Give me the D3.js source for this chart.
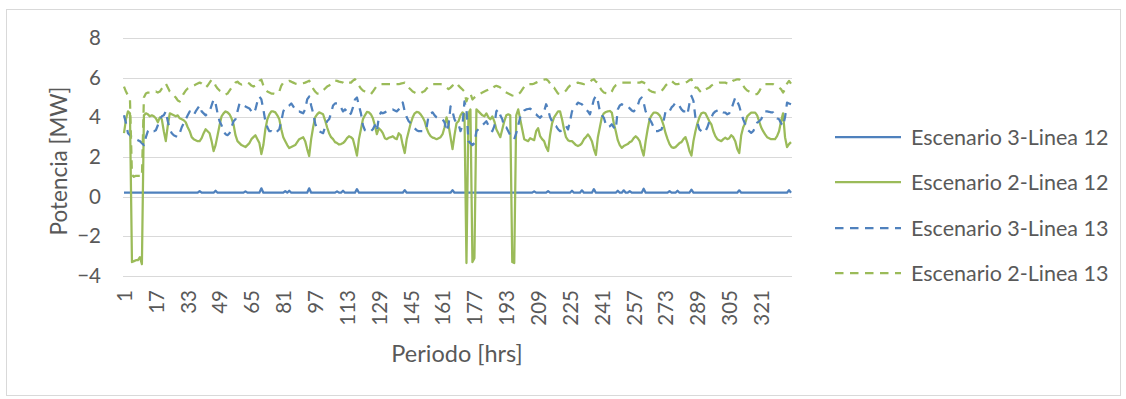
<!DOCTYPE html>
<html>
<head>
<meta charset="utf-8">
<script src="https://cdn.jsdelivr.net/npm/d3@7"></script>
<style>
  body { margin: 0; background: #ffffff; }
  svg { display: block; }
  text { font-family: Lato, "Open Sans", sans-serif; fill: #595959; }
</style>
</head>
<body>
<svg id="chart" width="1126" height="399"></svg>
<script>
// Hourly periods (14 days x 24 h)
const periods = d3.range(1, 337);
const tickPeriods = [1, 17, 33, 49, 65, 81, 97, 113, 129, 145, 161, 177, 193, 209, 225, 241, 257, 273, 289, 305, 321];
const yTicks = [-4, -2, 0, 2, 4, 6, 8];
const seriesNames = ["Escenario 3-Linea 12", "Escenario 2-Linea 12", "Escenario 3-Linea 13", "Escenario 2-Linea 13"];

// Potencia [MW] per hour, one row per day
const esc3Linea12 = [
  0.2,0.2,0.2,0.2,0.2,0.2,0.2,0.2,0.2,0.2,0.2,0.2,0.2,0.2,0.2,0.2,0.2,0.2,0.2,0.2,0.2,0.2,0.2,0.2,
  0.2,0.2,0.2,0.2,0.2,0.2,0.2,0.2,0.2,0.2,0.2,0.2,0.2,0.2,0.28,0.2,0.2,0.2,0.2,0.2,0.2,0.2,0.3,0.2,
  0.2,0.2,0.2,0.2,0.2,0.2,0.2,0.2,0.2,0.2,0.2,0.2,0.2,0.27,0.2,0.2,0.2,0.2,0.2,0.2,0.2,0.42,0.2,0.2,
  0.2,0.2,0.2,0.2,0.2,0.2,0.2,0.2,0.2,0.28,0.2,0.3,0.2,0.2,0.2,0.2,0.2,0.2,0.2,0.2,0.2,0.42,0.2,0.2,
  0.2,0.2,0.2,0.2,0.2,0.2,0.2,0.2,0.2,0.2,0.2,0.27,0.2,0.2,0.3,0.2,0.2,0.2,0.2,0.2,0.2,0.38,0.2,0.2,
  0.2,0.2,0.2,0.2,0.2,0.2,0.2,0.2,0.2,0.2,0.2,0.2,0.2,0.2,0.2,0.2,0.2,0.2,0.2,0.2,0.2,0.33,0.2,0.2,
  0.2,0.2,0.2,0.2,0.2,0.2,0.2,0.2,0.2,0.2,0.2,0.2,0.2,0.2,0.2,0.2,0.2,0.2,0.2,0.2,0.2,0.33,0.2,0.2,
  0.2,0.2,0.2,0.2,0.2,0.2,0.2,0.2,0.2,0.2,0.2,0.2,0.2,0.2,0.2,0.2,0.2,0.2,0.2,0.2,0.2,0.2,0.2,0.2,
  0.2,0.2,0.2,0.2,0.2,0.2,0.2,0.2,0.2,0.2,0.2,0.2,0.2,0.2,0.27,0.2,0.2,0.2,0.2,0.2,0.2,0.28,0.2,0.2,
  0.2,0.2,0.2,0.2,0.2,0.2,0.2,0.2,0.2,0.3,0.2,0.2,0.2,0.2,0.32,0.2,0.2,0.2,0.2,0.2,0.38,0.2,0.2,0.2,
  0.2,0.2,0.2,0.2,0.2,0.2,0.2,0.2,0.3,0.2,0.2,0.32,0.2,0.2,0.28,0.2,0.2,0.2,0.2,0.2,0.2,0.4,0.2,0.2,
  0.2,0.2,0.2,0.2,0.2,0.2,0.2,0.2,0.2,0.2,0.28,0.2,0.2,0.2,0.3,0.2,0.2,0.2,0.2,0.2,0.2,0.35,0.2,0.2,
  0.2,0.2,0.2,0.2,0.2,0.2,0.2,0.2,0.2,0.2,0.2,0.2,0.2,0.2,0.2,0.2,0.2,0.2,0.2,0.2,0.2,0.32,0.2,0.2,
  0.2,0.2,0.2,0.2,0.2,0.2,0.2,0.2,0.2,0.2,0.2,0.2,0.2,0.2,0.2,0.2,0.2,0.2,0.2,0.2,0.2,0.2,0.33,0.2
];

const esc2Linea12 = [
  3.2,3.9,4.3,4.2,-3.3,-3.25,-3.2,-3.2,-3.05,-3.4,4.1,4.2,4.15,4.05,4.1,4.05,3.95,3.75,4.0,3.9,3.3,2.8,3.6,4.2,
  4.15,4.1,4.05,4.1,3.95,3.9,3.85,3.75,3.5,3.3,3.0,2.9,2.85,2.8,2.8,2.95,3.2,3.4,3.3,3.2,2.8,2.3,2.6,3.1,
  3.6,4.05,4.2,4.3,4.25,4.15,3.95,3.65,3.1,2.8,2.7,2.6,2.55,2.5,2.6,2.7,2.9,3.0,3.1,2.9,2.7,2.15,2.6,3.4,
  3.9,4.15,4.3,4.3,4.25,4.1,3.9,3.4,3.0,2.8,2.6,2.45,2.5,2.55,2.6,2.75,2.9,2.95,3.0,2.8,2.4,2.05,2.9,3.5,
  4.0,4.15,4.25,4.2,4.15,3.85,3.5,3.2,3.0,2.9,2.75,2.7,2.63,2.65,2.7,2.8,2.95,3.05,3.0,2.9,2.5,2.07,2.9,3.4,
  3.9,4.1,4.27,4.25,4.15,3.95,3.6,3.15,3.45,3.35,3.2,2.95,2.9,2.97,3.0,3.05,2.95,2.9,3.2,3.1,2.6,2.2,2.9,3.3,
  3.7,4.0,4.2,4.27,4.25,4.15,4.0,3.8,3.45,3.2,3.05,2.98,2.95,2.9,2.95,3.0,3.15,3.5,4.0,3.6,3.0,2.4,3.1,3.7,
  3.8,4.1,4.25,4.15,-3.35,4.2,4.4,-3.3,-3.1,4.4,4.3,4.2,4.1,4.05,4.2,4.0,3.9,4.05,3.8,3.4,3.2,3.0,3.4,3.8,
  4.1,4.15,4.1,-3.3,-3.35,4.1,4.4,3.9,3.4,2.9,2.85,2.8,2.95,2.9,2.85,3.3,3.45,3.05,2.9,2.8,2.5,2.3,3.1,3.7,
  4.0,4.15,4.3,4.3,3.9,3.4,3.0,2.85,2.8,2.8,2.7,2.6,2.55,2.6,2.7,2.9,3.0,3.14,3.0,2.8,2.4,2.1,3.0,3.5,
  4.0,4.2,4.27,4.3,4.32,4.24,3.7,3.3,2.85,2.6,2.46,2.55,2.6,2.65,2.75,2.8,2.95,3.05,2.95,2.8,2.4,2.07,2.8,3.4,
  3.9,4.1,4.24,4.24,4.2,4.1,3.9,3.6,3.2,2.9,2.65,2.5,2.46,2.5,2.6,2.7,2.75,2.9,3.0,2.7,2.3,2.07,2.8,3.3,
  3.7,4.0,4.2,4.24,4.2,4.0,3.8,3.65,3.3,3.05,2.9,2.85,2.8,2.9,2.97,2.9,2.95,3.1,3.0,2.8,2.4,2.2,3.1,3.5,
  3.7,4.05,4.15,4.24,4.24,4.24,4.1,3.8,3.5,3.3,3.14,3.0,2.95,2.9,2.9,2.9,3.05,3.3,3.8,4.2,3.0,2.5,2.65,2.75
];

const esc3Linea13 = [
  4.1,3.7,3.2,3.1,3.0,2.95,2.9,2.85,2.8,2.7,2.6,3.0,3.3,3.4,3.35,3.3,3.35,3.6,3.9,4.05,4.1,4.3,3.8,3.4,
  3.2,3.1,3.05,3.0,3.2,3.5,3.7,3.9,4.1,4.3,4.2,4.1,4.3,4.45,4.6,4.3,4.2,4.1,4.2,4.3,4.6,4.9,4.7,4.2,
  3.8,3.6,3.3,3.15,3.1,3.2,3.5,3.8,3.9,4.3,4.7,4.7,4.6,4.55,4.5,4.45,4.3,4.2,4.4,4.8,5.05,4.9,4.4,3.8,
  3.5,3.3,3.3,3.2,3.2,3.3,3.4,3.8,4.3,4.5,4.55,4.6,4.7,4.55,4.4,4.3,4.3,4.25,4.2,4.4,4.9,5.05,4.6,4.2,
  3.7,3.4,3.3,3.25,3.2,3.5,3.8,3.9,4.2,4.6,4.7,4.7,4.65,4.5,4.3,4.4,4.3,4.1,4.2,4.5,4.9,5.0,4.6,4.2,
  3.6,3.35,3.3,3.25,3.3,3.4,3.6,3.3,4.0,4.25,4.2,4.25,4.3,4.35,4.4,4.4,4.35,4.3,4.4,4.5,4.75,4.3,4.0,3.8,
  3.7,3.6,3.45,3.35,3.3,3.3,3.3,3.35,3.5,4.1,4.2,4.25,4.1,4.0,3.95,3.95,3.9,3.75,3.3,3.6,4.55,4.3,3.9,3.7,
  3.65,3.3,3.6,4.8,4.4,2.8,2.7,2.6,2.7,3.3,3.4,3.5,3.6,3.7,3.8,3.6,3.4,3.3,3.56,4.3,4.4,4.1,3.9,3.5,
  3.5,3.3,3.1,2.97,2.9,3.2,3.6,4.0,4.2,4.35,4.4,4.42,4.44,4.35,4.2,4.15,4.05,3.98,4.1,4.3,4.66,4.4,4.0,3.8,
  3.6,3.56,3.4,3.3,3.35,3.45,3.56,3.39,3.8,4.3,4.5,4.6,4.74,4.7,4.66,4.5,4.4,4.3,4.15,4.5,4.9,5.08,4.83,4.3,
  4.1,3.98,3.65,3.5,3.55,3.65,3.5,3.39,4.4,4.6,4.66,4.6,4.58,4.57,4.45,4.35,4.3,4.4,4.6,4.9,5.0,4.74,4.3,4.07,
  3.9,3.73,3.5,3.3,3.3,3.35,3.39,3.8,4.3,4.24,4.3,4.5,4.6,4.74,4.65,4.57,4.4,4.3,4.3,4.15,4.7,5.08,4.83,3.98,
  3.73,3.39,3.3,3.22,3.3,3.5,3.8,4.0,4.2,4.3,4.35,4.4,4.3,4.25,4.24,4.15,4.2,4.4,4.7,5.0,4.8,4.57,4.2,3.9,
  3.65,3.39,3.3,3.22,3.3,3.5,3.73,3.8,3.9,4.1,4.3,4.3,4.28,4.25,4.25,4.1,3.95,3.9,3.7,3.56,4.0,4.74,4.7,4.66
];

const esc2Linea13 = [
  5.55,5.3,5.1,4.9,1.1,1.0,1.05,1.05,1.05,1.0,5.0,5.2,5.25,5.25,5.25,5.25,5.3,5.25,5.3,5.45,5.6,5.7,5.5,5.3,
  5.2,5.1,5.0,4.85,4.8,5.0,5.2,5.35,5.45,5.5,5.55,5.6,5.65,5.7,5.75,5.7,5.6,5.5,5.6,5.75,5.9,5.8,5.6,5.45,
  5.35,5.3,5.2,5.15,5.2,5.35,5.5,5.6,5.75,5.8,5.7,5.65,5.7,5.75,5.75,5.7,5.6,5.55,5.6,5.7,5.85,5.9,5.6,5.4,
  5.3,5.25,5.2,5.2,5.17,5.2,5.3,5.6,5.75,5.78,5.8,5.84,5.8,5.75,5.7,5.68,5.67,5.7,5.72,5.75,5.8,5.85,5.67,5.45,
  5.3,5.2,5.2,5.25,5.35,5.45,5.55,5.6,5.7,5.8,5.85,5.84,5.8,5.78,5.75,5.67,5.72,5.75,5.75,5.85,5.92,5.8,5.6,5.45,
  5.35,5.3,5.25,5.2,5.17,5.3,5.45,5.59,5.62,5.67,5.67,5.67,5.67,5.67,5.67,5.67,5.67,5.67,5.67,5.7,5.72,5.75,5.6,5.5,
  5.4,5.3,5.25,5.2,5.17,5.2,5.28,5.33,5.45,5.55,5.62,5.67,5.67,5.67,5.67,5.67,5.65,5.59,5.5,5.42,5.5,5.6,5.67,5.75,
  5.6,5.5,5.4,5.3,4.8,5.1,5.2,4.9,5.0,5.08,5.15,5.2,5.25,5.3,5.35,5.4,5.45,5.42,5.55,5.59,5.55,5.5,5.42,5.3,
  5.25,5.2,5.15,5.1,5.08,5.08,5.15,5.25,5.4,5.55,5.67,5.67,5.67,5.67,5.7,5.75,5.8,5.84,5.88,5.9,5.92,5.85,5.7,5.5,
  5.5,5.35,5.2,5.17,5.2,5.25,5.35,5.5,5.6,5.67,5.7,5.72,5.75,5.72,5.7,5.67,5.7,5.75,5.8,5.88,5.92,5.8,5.75,5.5,
  5.35,5.25,5.22,5.2,5.17,5.3,5.5,5.62,5.67,5.7,5.75,5.75,5.75,5.75,5.75,5.75,5.75,5.75,5.75,5.75,5.8,5.75,5.7,5.45,
  5.35,5.3,5.27,5.25,5.25,5.3,5.33,5.45,5.6,5.7,5.8,5.84,5.75,5.67,5.67,5.7,5.72,5.75,5.75,5.8,5.88,5.92,5.6,5.5,
  5.5,5.35,5.25,5.3,5.4,5.45,5.5,5.6,5.67,5.7,5.72,5.75,5.75,5.75,5.75,5.7,5.67,5.75,5.85,5.88,5.92,5.92,5.75,5.59,
  5.45,5.35,5.3,5.25,5.2,5.17,5.17,5.3,5.5,5.6,5.67,5.67,5.67,5.67,5.67,5.6,5.55,5.5,5.42,5.25,5.4,5.7,5.84,5.7
];

const seriesValues = [esc3Linea12, esc2Linea12, esc3Linea13, esc2Linea13];
const seriesColors = ["#4F81BD", "#9BBB59", "#4F81BD", "#9BBB59"];
const seriesDash = [null, null, "8.5,6.5", "8.5,6.5"];

const svg = d3.select("#chart");
const plot = { left: 123, right: 792, top: 38, bottom: 276 };

// chart frame
svg.append("rect")
  .attr("x", 6.5).attr("y", 9.5)
  .attr("width", 1114).attr("height", 386)
  .attr("fill", "#ffffff").attr("stroke", "#d9d9d9").attr("stroke-width", 1);

const x = d3.scalePoint().domain(periods).range([plot.left, plot.right]).padding(0.5);
const y = d3.scaleLinear().domain([-4, 8]).range([plot.bottom, plot.top]);

// horizontal gridlines
svg.append("g")
  .selectAll("line").data(yTicks).join("line")
  .attr("x1", plot.left).attr("x2", plot.right)
  .attr("y1", d => Math.round(y(d)) + 0.5).attr("y2", d => Math.round(y(d)) + 0.5)
  .attr("stroke", "#d9d9d9").attr("stroke-width", 1);

// y axis labels
const yAxis = d3.axisLeft(y).tickValues(yTicks).tickSize(0).tickPadding(0);
const gy = svg.append("g").attr("transform", `translate(${plot.left - 22},0)`).call(yAxis);
gy.select(".domain").remove();
gy.selectAll("text")
  .attr("font-size", 20.5).attr("fill", "#595959")
  .style("font-family", "Lato, 'Open Sans', sans-serif");

// x axis labels (rotated)
const xAxis = d3.axisBottom(x).tickValues(tickPeriods).tickSize(0).tickPadding(0);
const gx = svg.append("g").attr("transform", `translate(0,${plot.bottom})`).call(xAxis);
gx.select(".domain").remove();
gx.selectAll("text")
  .attr("font-size", 20.5).attr("fill", "#595959")
  .style("font-family", "Lato, 'Open Sans', sans-serif")
  .attr("text-anchor", "end")
  .attr("dy", "0.36em")
  .attr("transform", "translate(0,14) rotate(-90)")
  .attr("x", 0).attr("y", 0);

// axis titles
svg.append("text")
  .attr("transform", `translate(67,${(plot.top + plot.bottom) / 2 + 4}) rotate(-90)`)
  .attr("text-anchor", "middle")
  .attr("font-size", 22.5)
  .text("Potencia [MW]");

svg.append("text")
  .attr("x", 457).attr("y", 362)
  .attr("text-anchor", "middle")
  .attr("font-size", 23.5)
  .text("Periodo [hrs]");

// series lines
const line = d3.line()
  .x((d, i) => x(periods[i]))
  .y(d => y(d));

const gLines = svg.append("g");
seriesValues.forEach((vals, k) => {
  gLines.append("path")
    .datum(vals)
    .attr("fill", "none")
    .attr("stroke", seriesColors[k])
    .attr("stroke-width", 2.25)
    .attr("stroke-linejoin", "round")
    .attr("stroke-dasharray", seriesDash[k])
    .attr("d", line);
});

// legend
const legendY = [137, 182, 228, 273];
const legend = svg.append("g");
seriesNames.forEach((name, k) => {
  legend.append("line")
    .attr("x1", 835).attr("x2", 901)
    .attr("y1", legendY[k]).attr("y2", legendY[k])
    .attr("stroke", seriesColors[k])
    .attr("stroke-width", 2.25)
    .attr("stroke-dasharray", seriesDash[k]);
  legend.append("text")
    .attr("x", 911).attr("y", legendY[k])
    .attr("dy", "0.36em")
    .attr("font-size", 21.5)
    .text(name);
});
</script>
</body>
</html>
